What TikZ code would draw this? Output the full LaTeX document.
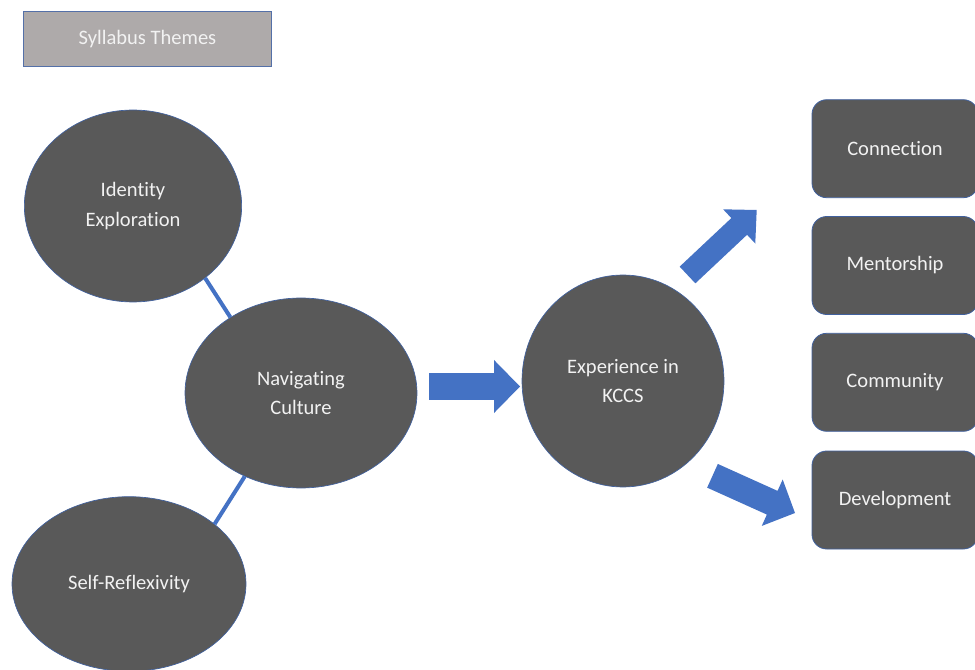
\documentclass[tikz,border=0pt]{standalone}
\usepackage{fontspec}
\setmainfont[Ligatures=NoCommon]{Carlito}
\usetikzlibrary{shapes.geometric,calc}

\definecolor{nodefill}{HTML}{595959}
\definecolor{nodeedge}{HTML}{41619E}
\definecolor{themefill}{HTML}{AEAAAA}
\definecolor{themeedge}{HTML}{5470A8}
\definecolor{linkblue}{HTML}{4472C4}
\definecolor{labeltext}{HTML}{F2F2F2}

% block arrow from tail #1 to tip #2: shaft half-width #3, head half-width #4, head length #5
\newcommand\blockarrow[5]{%
  \coordinate (#1-#2-h) at ($(#2)!#5!(#1)$);
  \fill[linkblue]
    ($(#1)!#3!90:(#2)$) -- ($(#1-#2-h)!#3!90:(#2)$) -- ($(#1-#2-h)!#4!90:(#2)$) --
    (#2) --
    ($(#1-#2-h)!#4!-90:(#2)$) -- ($(#1-#2-h)!#3!-90:(#2)$) -- ($(#1)!#3!-90:(#2)$) -- cycle;
}

\tikzset{
  txt/.style={font=\fontsize{15.4pt}{21.8pt}\selectfont, text=labeltext, align=center, inner sep=0pt},
  oval/.style={txt, ellipse, fill=nodefill, draw=nodeedge, line width=0.5pt},
  card/.style={txt, rectangle, rounded corners=11pt, fill=nodefill, draw=nodeedge, line width=0.6pt,
    minimum width=124.5pt, minimum height=73.5pt},
  theme/.style={txt, rectangle, fill=themefill, draw=themeedge, line width=0.8pt,
    minimum width=186pt, minimum height=41.25pt},
  link/.style={draw=linkblue, line width=3pt},
}

\begin{document}
\begin{tikzpicture}[x=0.75pt, y=-0.75pt]
  \useasboundingbox (0,0) rectangle (975,670);
  \clip (0,0) rectangle (975,670);

  % title tag
  \node[theme] (syl) at (147.5,39.2) {Syllabus Themes};

  % syllabus themes
  \node[oval, minimum width=163pt, minimum height=144pt] (ident) at (133,206) {Identity\\Exploration};
  \node[oval, minimum width=174pt, minimum height=142.5pt] (nav) at (301,393) {Navigating\\Culture};
  \node[oval, minimum width=175.5pt, minimum height=131pt] (self) at (129,584) {Self-Reflexivity};

  % links between themes
  \draw[link] (ident.-45) -- (nav.133);
  \draw[link] (nav.-124) -- (self.35);

  % central experience
  \node[oval, minimum width=151.5pt, minimum height=159pt] (exp) at (623,381) {Experience in\\KCCS};

  % outcomes
  \node[card] (conn) at (895,148.7) {Connection};
  \node[card] (ment) at (895,265.5) {Mentorship};
  \node[card] (comm) at (895,382.3) {Community};
  \node[card] (dev)  at (895,500) {Development};

  % flow arrows
  \coordinate (a1t) at (429,386.5);
  \coordinate (a1h) at (520,386.5);
  \blockarrow{a1t}{a1h}{10.1pt}{19.9pt}{19.5pt}

  \coordinate (a2t) at (687.5,275);
  \coordinate (a2h) at (756.7,210);
  \blockarrow{a2t}{a2h}{8.6pt}{17.6pt}{18pt}

  \coordinate (a3t) at (712.5,475.8);
  \coordinate (a3h) at (795,513);
  \blockarrow{a3t}{a3h}{9.75pt}{19.1pt}{18.75pt}
\end{tikzpicture}
\end{document}
